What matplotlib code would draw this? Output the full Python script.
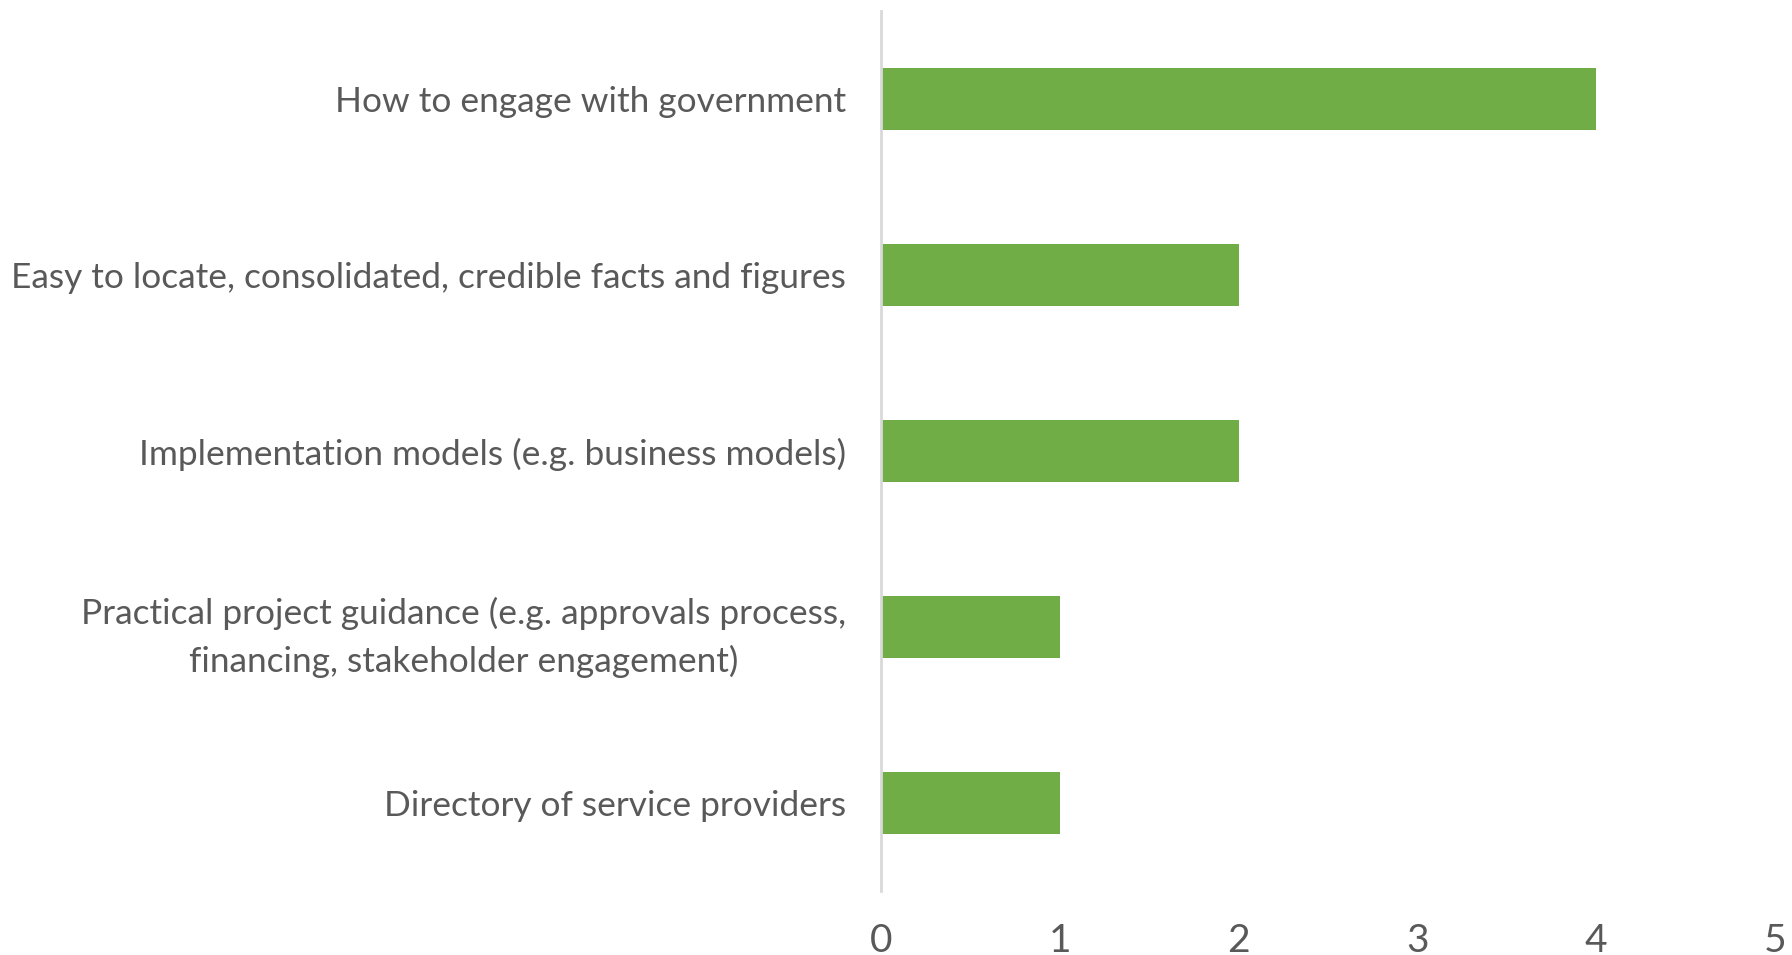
import numpy as np
import matplotlib.pyplot as plt

plt.rcParams['font.family'] = ['Lato', 'DejaVu Sans']

categories = [
    'How to engage with government',
    'Easy to locate, consolidated, credible facts and figures',
    'Implementation models (e.g. business models)',
    'Practical project guidance (e.g. approvals process,\nfinancing, stakeholder engagement)',
    'Directory of service providers',
]
values = [4, 2, 2, 1, 1]
xticks = [0, 1, 2, 3, 4, 5]

text_color = '#595959'
bar_color = '#70AD47'
axis_color = '#D9D9D9'

fig = plt.figure(figsize=(17.92, 9.55), dpi=100)
ax = fig.add_axes([881 / 1792, 1 - 891 / 955, (1775 - 881) / 1792, 880 / 955])

y = np.arange(len(categories))
ax.barh(y, values, height=0.35, color=bar_color)

ax.set_xlim(0, 5)
ax.set_ylim(len(categories) - 0.5, -0.5)
ax.set_yticks(y)
ax.set_yticklabels(categories)
ax.set_xticks(xticks)
ax.set_xticklabels([str(v) for v in xticks])

for s in ['top', 'right', 'bottom']:
    ax.spines[s].set_visible(False)
ax.spines['left'].set_color(axis_color)
ax.spines['left'].set_linewidth(2)

ax.tick_params(axis='y', length=0, pad=25, labelsize=25.4, labelcolor=text_color)
ax.tick_params(axis='x', length=0, pad=23, labelsize=28, labelcolor=text_color)
for t in ax.get_yticklabels():
    t.set_multialignment('center')
    t.set_linespacing(1.55)

fig.savefig('out.png', dpi=100)
plt.close()
